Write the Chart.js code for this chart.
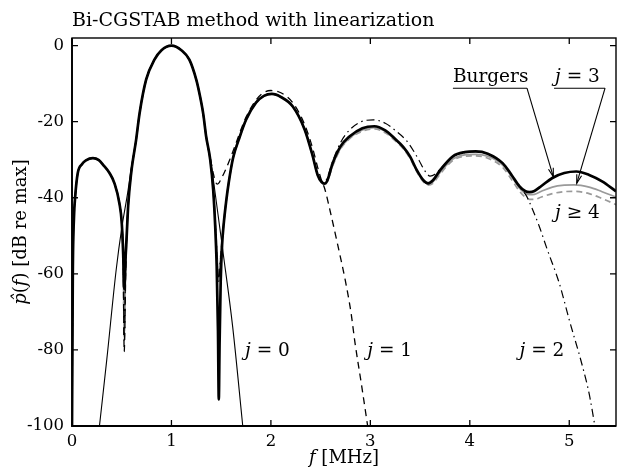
<!DOCTYPE html>
<html><head><meta charset="utf-8">
<script src="https://cdn.jsdelivr.net/npm/chart.js@4"></script>
<style>html,body{margin:0;padding:0;background:#fff;overflow:hidden}</style>
</head><body>
<canvas id="c" width="617" height="476"></canvas>
<script>
// ---- data ----
const xTicks = [0, 1, 2, 3, 4, 5];
const xTickLabels = ['0', '1', '2', '3', '4', '5'];
const yTicks = [-100, -80, -60, -40, -20, 0];
const yTickLabels = ['-100', '-80', '-60', '-40', '-20', '0'];

// [f (MHz), level (dB re max)]
const burgers = [[0,-100],[0.008,-60],[0.02,-45],[0.032,-39.7],[0.058,-33.5],[0.1,-31.2],[0.14,-30.2],[0.21,-29.6],[0.27,-30.1],[0.315,-31.4],[0.377,-33.5],[0.427,-36.2],[0.477,-41.5],[0.5,-46.5],[0.515,-55],[0.525,-64],[0.538,-56],[0.55,-50],[0.565,-42],[0.595,-33.5],[0.645,-24.7],[0.68,-17.7],[0.746,-8.9],[0.829,-3.7],[0.9,-1.2],[1.0,0],[1.1,-1.2],[1.18,-3.7],[1.25,-9],[1.28,-12.4],[1.32,-18],[1.349,-23.9],[1.39,-30],[1.42,-38],[1.44,-47.5],[1.455,-58],[1.468,-75],[1.476,-93],[1.484,-78],[1.495,-62],[1.51,-52],[1.525,-47],[1.55,-41],[1.576,-36],[1.62,-29.5],[1.68,-24.5],[1.75,-19.5],[1.85,-15],[1.93,-13.2],[2.01,-12.7],[2.1,-13.5],[2.22,-16],[2.34,-22.1],[2.42,-29],[2.47,-34],[2.51,-35.9],[2.54,-36.3],[2.565,-35.6],[2.62,-31],[2.7,-26.5],[2.79,-23.9],[2.92,-21.7],[3.04,-21.2],[3.15,-22.3],[3.24,-24.3],[3.33,-26.6],[3.40,-29.2],[3.46,-32.4],[3.53,-35.3],[3.58,-36.2],[3.63,-35.4],[3.7,-32.8],[3.83,-29.1],[3.95,-28.0],[4.06,-27.8],[4.18,-28.4],[4.33,-30.9],[4.42,-34],[4.5,-37],[4.56,-38.3],[4.6,-38.5],[4.65,-38.2],[4.72,-36.9],[4.83,-34.8],[4.95,-33.5],[5.07,-33.1],[5.2,-34],[5.33,-35.7],[5.47,-38.3]];

const j0 = [[0.276,-100],[0.35,-82.5],[0.444,-59],[0.5,-48],[0.561,-38.5],[0.6,-31.5],[0.645,-24.7],[0.68,-17.7],[0.746,-8.9],[0.829,-3.7],[0.9,-1.2],[1.0,0],[1.1,-1.2],[1.18,-3.7],[1.25,-9],[1.28,-12.4],[1.32,-18],[1.349,-23.9],[1.4,-31.5],[1.42,-35],[1.517,-54],[1.616,-74],[1.717,-100]];

const j1 = [[0,-100],[0.008,-60],[0.02,-45],[0.032,-39.7],[0.058,-33.5],[0.1,-31.2],[0.14,-30.2],[0.21,-29.6],[0.27,-30.1],[0.315,-31.4],[0.377,-33.5],[0.427,-36.2],[0.477,-41.5],[0.5,-46.5],[0.515,-57],[0.525,-80.5],[0.54,-59],[0.55,-50],[0.565,-42],[0.595,-33.5],[0.645,-24.7],[0.68,-17.7],[0.746,-8.9],[0.829,-3.7],[0.9,-1.2],[1.0,0],[1.1,-1.2],[1.18,-3.7],[1.25,-9],[1.28,-12.4],[1.32,-18],[1.349,-23.9],[1.39,-29.5],[1.42,-33.5],[1.44,-35.6],[1.46,-36.4],[1.48,-36],[1.5,-35],[1.533,-33.3],[1.58,-30.4],[1.633,-26.8],[1.7,-22],[1.75,-18.8],[1.85,-14.3],[1.93,-12.3],[2.0,-11.8],[2.1,-12.4],[2.22,-15],[2.34,-20.8],[2.42,-27],[2.47,-32],[2.51,-35.5],[2.54,-37.5],[2.6,-44],[2.672,-52.4],[2.75,-62],[2.806,-70.3],[2.845,-78],[2.91,-89],[2.973,-100]];

const j2 = [[0,-100],[0.008,-60],[0.02,-45],[0.032,-39.7],[0.058,-33.5],[0.1,-31.2],[0.14,-30.2],[0.21,-29.6],[0.27,-30.1],[0.315,-31.4],[0.377,-33.5],[0.427,-36.2],[0.477,-41.5],[0.5,-46.5],[0.515,-56],[0.525,-78],[0.54,-58],[0.55,-50],[0.565,-42],[0.595,-33.5],[0.645,-24.7],[0.68,-17.7],[0.746,-8.9],[0.829,-3.7],[0.9,-1.2],[1.0,0],[1.1,-1.2],[1.18,-3.7],[1.25,-9],[1.28,-12.4],[1.32,-18],[1.349,-23.9],[1.39,-30],[1.42,-38],[1.44,-46],[1.46,-56],[1.476,-62],[1.49,-57],[1.51,-51],[1.525,-47],[1.55,-41],[1.576,-36],[1.62,-29.5],[1.68,-24.5],[1.75,-19.5],[1.85,-15],[1.93,-13.2],[2.01,-12.7],[2.1,-13.5],[2.22,-16],[2.34,-22.1],[2.42,-29],[2.47,-34],[2.51,-35.6],[2.54,-35.8],[2.57,-34.5],[2.62,-30.5],[2.7,-25.5],[2.79,-22.2],[2.9,-20.1],[3.03,-19.5],[3.15,-20.4],[3.25,-22.3],[3.36,-24.9],[3.43,-27.5],[3.49,-30.2],[3.55,-33],[3.6,-34.3],[3.65,-33.8],[3.7,-32.5],[3.83,-29.2],[3.95,-28.1],[4.06,-27.9],[4.18,-28.5],[4.33,-31],[4.42,-34.2],[4.5,-37.2],[4.565,-39.3],[4.63,-43],[4.698,-47.5],[4.78,-53.7],[4.9,-62.5],[5.0,-72.1],[5.134,-84.4],[5.2,-91.5],[5.258,-100]];

const j3 = [[0,-100],[0.008,-60],[0.02,-45],[0.032,-39.7],[0.058,-33.5],[0.1,-31.2],[0.14,-30.2],[0.21,-29.6],[0.27,-30.1],[0.315,-31.4],[0.377,-33.5],[0.427,-36.2],[0.477,-41.5],[0.5,-46.5],[0.515,-56],[0.525,-76.5],[0.54,-58],[0.55,-50],[0.565,-42],[0.595,-33.5],[0.645,-24.7],[0.68,-17.7],[0.746,-8.9],[0.829,-3.7],[0.9,-1.2],[1.0,0],[1.1,-1.2],[1.18,-3.7],[1.25,-9],[1.28,-12.4],[1.32,-18],[1.349,-23.9],[1.39,-30],[1.42,-38],[1.44,-46],[1.46,-56],[1.476,-62],[1.49,-57],[1.51,-51],[1.525,-47],[1.55,-41],[1.576,-36],[1.62,-29.5],[1.68,-24.5],[1.75,-19.5],[1.85,-15],[1.93,-13.2],[2.01,-12.7],[2.1,-13.5],[2.22,-16],[2.34,-22.1],[2.42,-29],[2.47,-34],[2.51,-35.9],[2.54,-36.4],[2.565,-35.8],[2.62,-31.5],[2.7,-27],[2.79,-24.3],[2.92,-22.2],[3.04,-21.6],[3.15,-22.6],[3.24,-24.5],[3.33,-26.8],[3.40,-29.4],[3.46,-32.5],[3.53,-35.4],[3.58,-36.4],[3.63,-35.8],[3.7,-33.4],[3.83,-29.8],[3.95,-28.7],[4.06,-28.6],[4.18,-29.1],[4.33,-31.4],[4.42,-34.4],[4.5,-37.5],[4.56,-38.9],[4.6,-39.2],[4.65,-39.1],[4.72,-38.3],[4.83,-37.2],[4.95,-36.7],[5.05,-36.6],[5.2,-37.2],[5.33,-38.4],[5.47,-39.8]];

const j4 = [[0,-100],[0.008,-60],[0.02,-45],[0.032,-39.7],[0.058,-33.5],[0.1,-31.2],[0.14,-30.2],[0.21,-29.6],[0.27,-30.1],[0.315,-31.4],[0.377,-33.5],[0.427,-36.2],[0.477,-41.5],[0.5,-46.5],[0.515,-56],[0.525,-76.5],[0.54,-58],[0.55,-50],[0.565,-42],[0.595,-33.5],[0.645,-24.7],[0.68,-17.7],[0.746,-8.9],[0.829,-3.7],[0.9,-1.2],[1.0,0],[1.1,-1.2],[1.18,-3.7],[1.25,-9],[1.28,-12.4],[1.32,-18],[1.349,-23.9],[1.39,-30],[1.42,-38],[1.44,-46],[1.46,-56],[1.476,-62],[1.49,-57],[1.51,-51],[1.525,-47],[1.55,-41],[1.576,-36],[1.62,-29.5],[1.68,-24.5],[1.75,-19.5],[1.85,-15],[1.93,-13.2],[2.01,-12.7],[2.1,-13.5],[2.22,-16],[2.34,-22.1],[2.42,-29],[2.47,-34],[2.51,-35.9],[2.54,-36.5],[2.565,-35.9],[2.62,-31.7],[2.7,-27.2],[2.79,-24.5],[2.92,-22.5],[3.04,-21.9],[3.15,-22.9],[3.24,-24.8],[3.33,-27.1],[3.40,-29.7],[3.46,-32.8],[3.53,-35.7],[3.58,-36.7],[3.63,-36.2],[3.7,-33.8],[3.83,-30.2],[3.95,-29.1],[4.06,-29.0],[4.18,-29.6],[4.33,-32.0],[4.42,-35.2],[4.5,-38.3],[4.56,-39.9],[4.6,-40.4],[4.65,-40.4],[4.72,-39.8],[4.83,-38.9],[4.95,-38.4],[5.05,-38.3],[5.2,-38.9],[5.33,-40.2],[5.47,-41.8]];

// ---- chart ----
const SERIF = '"DejaVu Serif", "Liberation Serif", serif';
function ds(label, pts, color, width, dash, order) {
  return {
    label, data: pts.map(p => ({x: p[0], y: p[1]})),
    showLine: true, borderColor: color, borderWidth: width, borderDash: dash,
    pointRadius: 0, fill: false, cubicInterpolationMode: 'monotone', order,
    borderCapStyle: 'butt', borderJoinStyle: 'round'
  };
}

function drawParts(ctx, parts, x, y, size, align) {
  let total = 0;
  for (const [t, it] of parts) { ctx.font = (it ? 'italic ' : '') + size + 'px ' + SERIF; total += ctx.measureText(t).width; }
  let cx = align === 'center' ? x - total / 2 : x;
  ctx.textAlign = 'left';
  for (const [t, it] of parts) {
    ctx.font = (it ? 'italic ' : '') + size + 'px ' + SERIF;
    ctx.fillText(t, cx, y);
    cx += ctx.measureText(t).width;
  }
}

function arrow(ctx, x0, y0, x1, y1) {
  ctx.beginPath(); ctx.moveTo(x0, y0); ctx.lineTo(x1, y1); ctx.stroke();
  const a = Math.atan2(y1 - y0, x1 - x0), L = 9, w = 0.28;
  ctx.beginPath();
  ctx.moveTo(x1 - L * Math.cos(a - w), y1 - L * Math.sin(a - w));
  ctx.lineTo(x1, y1);
  ctx.lineTo(x1 - L * Math.cos(a + w), y1 - L * Math.sin(a + w));
  ctx.stroke();
}

const labels = [
  {parts: [['j', 1], [' = 0', 0]], f: 1.74, db: -81.6},
  {parts: [['j', 1], [' = 1', 0]], f: 2.97, db: -81.6},
  {parts: [['j', 1], [' = 2', 0]], f: 4.50, db: -81.6},
  {parts: [['j', 1], [' \u2265 4', 0]], f: 4.857, db: -45.3},
  {parts: [['Burgers', 0]], f: 3.83, db: -9.6},
  {parts: [['j', 1], [' = 3', 0]], f: 4.857, db: -9.6}
];
const leaders = [
  {f0: 3.83, f1: 4.575, db: -11.2, tipF: 4.84, tipDb: -34.5},
  {f0: 4.847, f1: 5.36, db: -11.2, tipF: 5.075, tipDb: -36.2}
];

const framePlugin = {
  id: 'frame',
  afterDatasetsDraw(chart) {
    const {ctx, chartArea: a, scales: {x, y}} = chart;
    ctx.save();
    ctx.strokeStyle = '#000'; ctx.fillStyle = '#000';
    ctx.lineWidth = 1.4;
    ctx.strokeRect(a.left, a.top, a.right - a.left, a.bottom - a.top);
    ctx.lineWidth = 1.8;
    ctx.beginPath();
    ctx.moveTo(a.left, a.top); ctx.lineTo(a.left, a.bottom); ctx.lineTo(a.right, a.bottom);
    ctx.stroke();
    ctx.lineWidth = 1.3;
    const T = 6;
    ctx.beginPath();
    for (const v of xTicks) {
      const px = x.getPixelForValue(v);
      ctx.moveTo(px, a.bottom); ctx.lineTo(px, a.bottom - T);
      ctx.moveTo(px, a.top); ctx.lineTo(px, a.top + T);
    }
    for (const v of yTicks) {
      const py = y.getPixelForValue(v);
      ctx.moveTo(a.left, py); ctx.lineTo(a.left + T, py);
      ctx.moveTo(a.right, py); ctx.lineTo(a.right - T, py);
    }
    ctx.stroke();

    // annotations
    ctx.textBaseline = 'alphabetic';
    for (const l of labels) drawParts(ctx, l.parts, x.getPixelForValue(l.f), y.getPixelForValue(l.db), 18.5, 'left');
    ctx.lineWidth = 1.1;
    for (const d of leaders) {
      const ly = y.getPixelForValue(d.db);
      const xa = x.getPixelForValue(d.f0), xb = x.getPixelForValue(d.f1);
      ctx.beginPath(); ctx.moveTo(xa, ly); ctx.lineTo(xb, ly); ctx.stroke();
      arrow(ctx, xb, ly, x.getPixelForValue(d.tipF), y.getPixelForValue(d.tipDb));
    }

    // titles
    drawParts(ctx, [['Bi-CGSTAB method with linearization', 0]], a.left, 26, 19, 'left');
    drawParts(ctx, [['f', 1], [' [MHz]', 0]], (a.left + a.right) / 2, 463, 18, 'center');
    ctx.save();
    ctx.translate(26, (a.top + a.bottom) / 2);
    ctx.rotate(-Math.PI / 2);
    drawParts(ctx, [['p\u0302', 1], ['(', 0], ['f', 1], [') [dB re max]', 0]], 0, 0, 18, 'center');
    ctx.restore();
    ctx.restore();
  }
};

new Chart(document.getElementById('c'), {
  type: 'scatter',
  data: {
    datasets: [
      ds('Burgers', burgers, '#000', 2.7, [], 0),
      ds('j = 0', j0, '#000', 1.1, [], 1),
      ds('j = 1', j1, '#000', 1.3, [7, 5], 2),
      ds('j = 2', j2, '#000', 1.2, [8, 4, 1.5, 4], 3),
      ds('j = 3', j3, '#9a9a9a', 1.7, [], 4),
      ds('j >= 4', j4, '#9a9a9a', 1.7, [6, 4], 5)
    ]
  },
  options: {
    responsive: false, animation: false, devicePixelRatio: 1,
    layout: {padding: {top: 38, right: 1, left: 0, bottom: 0}},
    plugins: {legend: {display: false}, tooltip: {enabled: false}, title: {display: false}},
    scales: {
      x: {
        type: 'linear', min: 0, max: 5.47,
        afterBuildTicks: s => { s.ticks = xTicks.map(v => ({value: v})); },
        afterFit: s => { s.height = 50; },
        ticks: {callback: (v, i) => xTickLabels[i], color: '#000', padding: 6, maxRotation: 0, autoSkip: false,
                font: {family: SERIF, size: 16.5}},
        grid: {display: false, drawTicks: false}, border: {display: false}
      },
      y: {
        type: 'linear', min: -100, max: 2,
        afterBuildTicks: s => { s.ticks = yTicks.map(v => ({value: v})); },
        afterFit: s => { s.width = 72; },
        ticks: {callback: (v, i) => yTickLabels[i], color: '#000', padding: 8, autoSkip: false,
                font: {family: SERIF, size: 16.5}},
        grid: {display: false, drawTicks: false}, border: {display: false}
      }
    }
  },
  plugins: [framePlugin]
});
</script>
</body></html>
